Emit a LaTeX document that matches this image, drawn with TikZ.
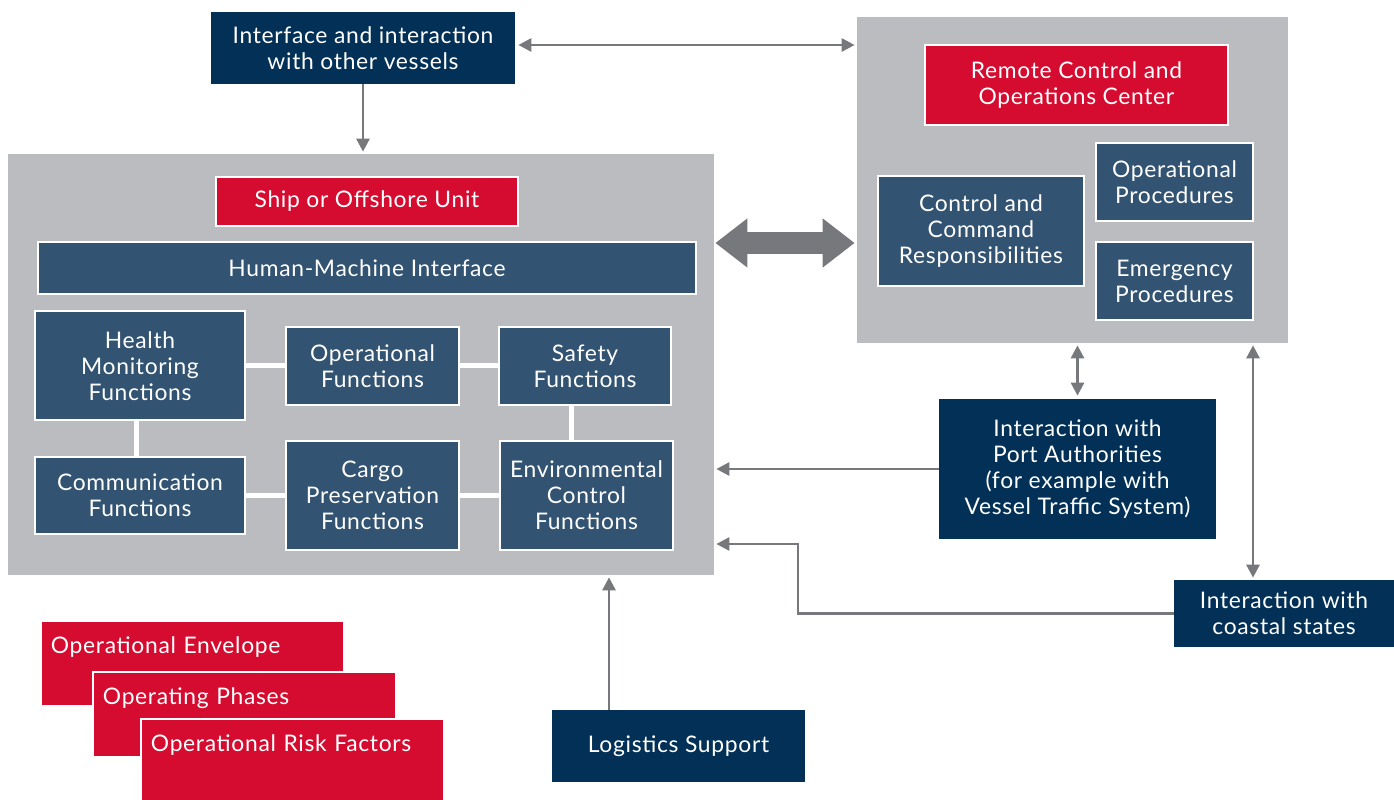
\documentclass[tikz,border=0pt]{standalone}
\usepackage{fontspec}
\setmainfont{Lato}[LetterSpace=3]
\usetikzlibrary{arrows.meta}
\usetikzlibrary{calc}
\tikzset{>=latex}
\definecolor{mygray}{HTML}{BBBCC0}
\definecolor{mynavy}{HTML}{023056}
\definecolor{mysteel}{HTML}{325371}
\definecolor{myred}{HTML}{D50C2F}
\definecolor{myarrow}{HTML}{77787B}

\begin{document}
\begin{tikzpicture}[
    x=0.02cm, y=-0.02cm,
    font=\fontsize{13}{14.8}\selectfont,
    boxsize/.style 2 args={minimum width=#1*0.02cm,minimum height=#2*0.02cm},
    box/.style={text=white,align=center,inner sep=0pt},
    panel/.style={fill=mygray,inner sep=0pt},
    navybox/.style={box,fill=mynavy},
    bluebox/.style={box,fill=mysteel,draw=white,line width=0.04cm},
    redbox/.style={box,fill=myred,draw=white,line width=0.04cm},
    stackbox/.style={redbox,anchor=north west,align=left,inner xsep=0.2cm,inner ysep=0pt,
                     text width=5.66cm,text height=0.66cm,text depth=1.04cm},
    link/.style={white,line width=0.1cm},
    arr/.style={myarrow,line width=0.055cm,-{Triangle[length=0.26cm,width=0.26cm]}},
    darr/.style={arr,{Triangle[length=0.26cm,width=0.26cm]}-{Triangle[length=0.26cm,width=0.26cm]}},
    bigarr/.style={myarrow,line width=0.44cm,
                   {Triangle[length=0.64cm,width=0.94cm]}-{Triangle[length=0.64cm,width=0.94cm]}}
  ]
  \useasboundingbox (0,0) rectangle (1394,800);

  % PANELS
  \node[panel,boxsize={706}{421}] (ship) at (361,364.5) {};
  \node[panel,boxsize={431}{326}] (remote) at (1072.5,180) {};

  % SHIP SIDE
  \node[redbox,boxsize={302}{49}] (unit) at (367,201.5) {Ship or Offshore Unit};
  \node[bluebox,boxsize={658}{52}] (hmi) at (367,268) {Human-Machine Interface};
  \node[bluebox,boxsize={210}{109}] (health) at (140,366) {Health\\Monitoring\\Functions};
  \node[bluebox,boxsize={173}{78}] (opfun) at (372.5,366) {Operational\\Functions};
  \node[bluebox,boxsize={172}{78}] (safety) at (585,366) {Safety\\Functions};
  \node[bluebox,boxsize={210}{77}] (comm) at (140,495.5) {Communication\\Functions};
  \node[bluebox,boxsize={173}{109}] (cargo) at (372.5,495.5) {Cargo\\Preservation\\Functions};
  \node[bluebox,boxsize={173}{109}] (env) at (586.5,495.5) {Environmental\\Control\\Functions};

  \draw[link] (health.east) -- (opfun.west);
  \draw[link] (opfun.east) -- (safety.west);
  \draw[link] ([xshift=-0.08cm]health.south) -- ([xshift=-0.08cm]health.south |- comm.north);
  \draw[link] ([xshift=-0.28cm]safety.south) -- ([xshift=-0.28cm]safety.south |- env.north);
  \draw[link] (comm.east) -- (cargo.west);
  \draw[link] (cargo.east) -- (env.west);

  % REMOTE SIDE
  \node[redbox,boxsize={303}{80}] (center) at (1076.5,85) {Remote Control and\\Operations Center};
  \node[bluebox,boxsize={206}{110}] (command) at (981,231) {Control and\\Command\\Responsibilities};
  \node[bluebox,boxsize={157}{78}] (opproc) at (1174.5,182) {Operational\\Procedures};
  \node[bluebox,boxsize={157}{78}] (emproc) at (1174.5,281) {Emergency\\Procedures};

  % OUTSIDE
  \node[navybox,boxsize={304}{72}] (vessels) at (363,48) {Interface and interaction\\with other vessels};
  \node[navybox,boxsize={277}{140}] (port) at (1077.5,469)
    {Interaction with\\Port Authorities\\(for example with\\Vessel Traffic System)};
  \node[navybox,boxsize={220}{67}] (coastal) at (1284,613.5) {Interaction with\\coastal states};
  \node[navybox,boxsize={253}{72}] (logistics) at (678.5,746) {Logistics Support};

  % STACK
  \node[stackbox] (envelope) at (40,620) {Operational Envelope};
  \node[stackbox] (phases) at (92,671) {Operating Phases};
  \node[stackbox] (risk) at (140,718) {Operational Risk Factors};

  % ARROWS
  \draw[arr,shorten >=0.04cm] (vessels.south) -- (vessels.south |- ship.north);
  \draw[darr,shorten <=0.06cm,shorten >=0.04cm]
    ([yshift=0.06cm]vessels.east) -- ([yshift=0.06cm]vessels.east -| remote.west);
  \draw[bigarr,shorten <=0.02cm,shorten >=0.04cm] (ship.east |- 0,243) -- (remote.west |- 0,243);
  \draw[darr,shorten <=0.06cm,shorten >=0.04cm] (port.north) -- (port.north |- remote.south);
  \draw[arr,shorten >=0.04cm] (port.west) -- (port.west -| ship.east);
  \draw[darr,shorten <=0.04cm,shorten >=0.04cm]
    ([xshift=-0.62cm]coastal.north) -- ([xshift=-0.62cm]coastal.north |- remote.south);
  \coordinate (turn) at (798,544);
  \draw[arr,shorten >=0.04cm] (coastal.west) -| (turn) -- (turn -| ship.east);
  \draw[arr,shorten >=0.04cm] ([xshift=-1.39cm]logistics.north) -- ([xshift=-1.39cm]logistics.north |- ship.south);

\end{tikzpicture}
\end{document}
